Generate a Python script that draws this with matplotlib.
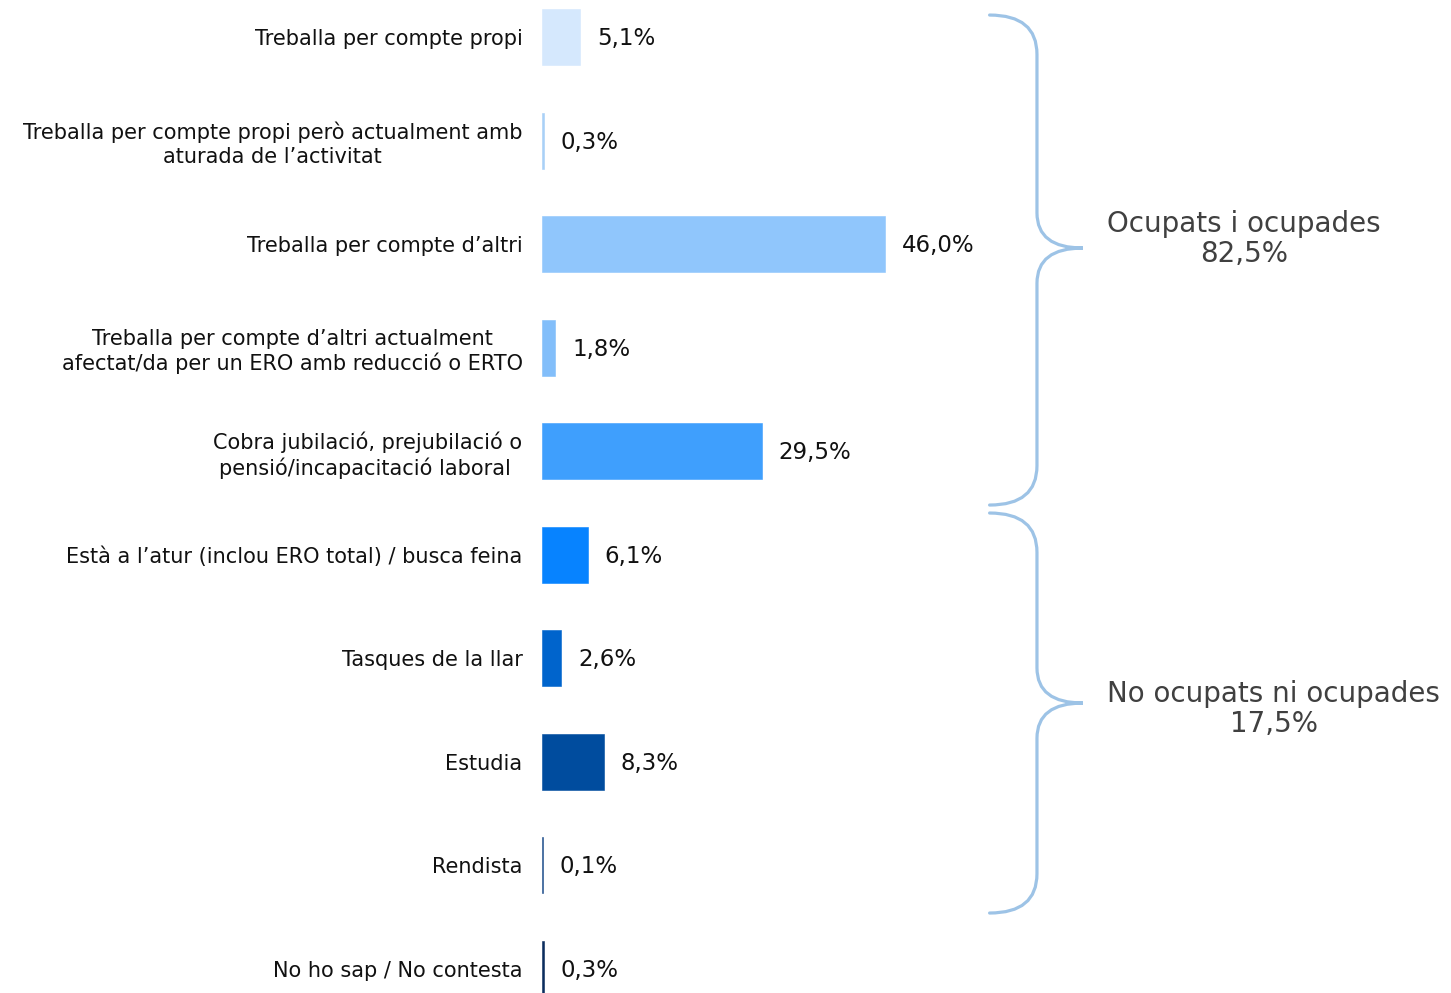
import matplotlib
matplotlib.use("Agg")
import matplotlib.pyplot as plt
from matplotlib.path import Path
from matplotlib.patches import PathPatch
import numpy as np

categories = [
    "Treballa per compte propi",
    "Treballa per compte propi però actualment amb\naturada de l’activitat",
    "Treballa per compte d’altri",
    "Treballa per compte d’altri actualment\nafectat/da per un ERO amb reducció o ERTO",
    "Cobra jubilació, prejubilació o\npensió/incapacitació laboral ",
    "Està a l’atur (inclou ERO total) / busca feina",
    "Tasques de la llar",
    "Estudia",
    "Rendista",
    "No ho sap / No contesta",
]
values = [5.1, 0.3, 46.0, 1.8, 29.5, 6.1, 2.6, 8.3, 0.1, 0.3]
value_labels = ["5,1%", "0,3%", "46,0%", "1,8%", "29,5%", "6,1%", "2,6%", "8,3%", "0,1%", "0,3%"]
colors = ["#D5E8FD", "#A9D0F7", "#90C6FC", "#82BEFA", "#3F9FFD",
          "#0783FF", "#0064CC", "#004C9E", "#1F4E8C", "#0B2D5E"]

group_labels = ["Ocupats i ocupades\n82,5%", "No ocupats ni ocupades\n17,5%"]
group_spans = [(-0.212, 4.52), (4.597, 8.46)]
group_tips = [2.038, 6.432]
group_text_y = [1.95, 6.49]

plt.rcParams['font.family'] = ['DejaVu Sans']

W, H = 1451, 993
fig = plt.figure(figsize=(W / 100, H / 100), dpi=100)
ax_left = 542 / W
ax = fig.add_axes([ax_left, 0, 1 - ax_left, 1])
px_per_unit = 7.46
ax.set_xlim(0, (W - 542) / px_per_unit)
pitch = 103.55
ax.set_ylim((H - 37) / pitch, -37 / pitch)

y = np.arange(len(categories))
ax.barh(y, values, height=0.54, color=colors, edgecolor=colors, linewidth=0.4)

for yi, v, lab in zip(y, values, value_labels):
    ax.annotate(lab, (v, yi + 0.015), xytext=(12, 0), textcoords="offset points",
                va="center", ha="left", fontsize=16.5, color="#111111")

ax.set_yticks(y)
ax.set_yticklabels(categories, fontsize=15, color="#111111")
for t in ax.get_yticklabels():
    t.set_multialignment("center")
    t.set_linespacing(1.22)
ax.tick_params(axis="y", length=0, pad=14)
ax.set_xticks([])
for s in ax.spines.values():
    s.set_visible(False)

# braces
bc = "#9DC3E6"
x0, xm, xt = 60.0, 66.35, 72.5
r_end = 0.38
r_tip = 0.34
for (ya, yb), yc, ty, lab in zip(group_spans, group_tips, group_text_y, group_labels):
    verts = [
        (x0, ya), (xm, ya), (xm, ya + r_end),
        (xm, yc - r_tip),
        (xm, yc), (xt, yc),
        (xm, yc), (xm, yc + r_tip),
        (xm, yb - r_end),
        (xm, yb), (x0, yb),
    ]
    codes = [Path.MOVETO, Path.CURVE3, Path.CURVE3,
             Path.LINETO,
             Path.CURVE3, Path.CURVE3,
             Path.CURVE3, Path.CURVE3,
             Path.LINETO,
             Path.CURVE3, Path.CURVE3]
    ax.add_patch(PathPatch(Path(verts, codes), fill=False, edgecolor=bc,
                           linewidth=2.3, clip_on=False, capstyle="round"))
    ax.text(75.8, ty, lab, ha="left", va="center", multialignment="center",
            fontsize=20, color="#404040", linespacing=1.1)

fig.savefig("out.png", dpi=100)
